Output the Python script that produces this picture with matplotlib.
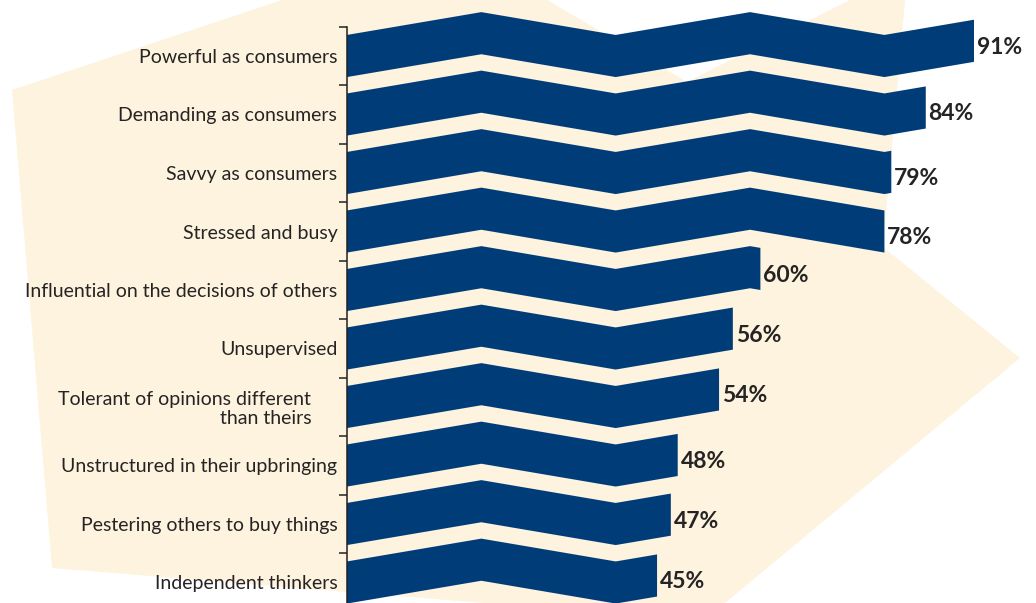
import matplotlib
matplotlib.use("Agg")
import matplotlib.pyplot as plt
from matplotlib.patches import Polygon
from matplotlib.transforms import ScaledTranslation

# survey answers, top to bottom
traits = [
    "Powerful as consumers",
    "Demanding as consumers",
    "Savvy as consumers",
    "Stressed and busy",
    "Influential on the decisions of others",
    "Unsupervised",
    "Tolerant of opinions different\nthan theirs",
    "Unstructured in their upbringing",
    "Pestering others to buy things",
    "Independent thinkers",
]
shares = [91, 84, 79, 78, 60, 56, 54, 48, 47, 45]

BLUE = "#003d78"
CREAM = "#fdf3de"
INK = "#262324"

plt.rcParams["font.family"] = ["Lato", "DejaVu Sans"]

W, H = 1036, 603
fig = plt.figure(figsize=(W / 100, H / 100), dpi=100)
fig.patch.set_facecolor("white")

# cream star-shaped backdrop (pixel outline, y measured from the top)
star = [(12, 90), (282, 0), (547, 0), (687, 82), (850, 0), (905, 0),
        (883, 247), (1020, 358), (725, 603), (484, 603), (52, 568)]
fig.add_artist(Polygon([(x / W, 1 - y / H) for x, y in star], closed=True,
                       transform=fig.transFigure, facecolor=CREAM,
                       edgecolor="none", zorder=0))

ax = fig.add_axes([347 / W, 0, 1 - 347 / W, 1])
ax.patch.set_alpha(0)
ax.set_xlim(0, 100)
ax.set_ylim(547 / 58.5, -56 / 58.5)

# zigzag ribbon: valleys every 39 units, peaks half way between
SEG = 19.5
AMP = 0.39
HALF = 0.36


def centre(x, row):
    k = int(x // SEG)
    frac = (x - k * SEG) / SEG
    lift = frac if k % 2 == 0 else 1 - frac
    return row - AMP * lift


for row, (name, val) in enumerate(zip(traits, shares)):
    xs = [i * SEG for i in range(int(val // SEG) + 1) if i * SEG < val] + [val]
    top = [(x, centre(x, row) - HALF) for x in xs]
    bot = [(x, centre(x, row) + HALF) for x in reversed(xs)]
    ax.fill(*zip(*(top + bot)), color=BLUE, lw=0, zorder=2)
    ax.text(val + 0.4, centre(val, row) + 0.11, f"{val}%", ha="left", va="center",
            fontsize=16.5, fontweight="bold", color=INK, zorder=3)

for side in ("top", "right", "bottom"):
    ax.spines[side].set_visible(False)
ax.spines["left"].set_bounds(-0.5, 547 / 58.5)
ax.spines["left"].set_linewidth(1.1)
ax.spines["left"].set_color("#222222")
ax.set_xticks([])

ax.set_yticks(range(len(traits)))
ax.set_yticklabels(traits, fontsize=14, color=INK, linespacing=1.1)
ax.tick_params(axis="y", which="major", length=0, pad=7)
ax.set_yticks([i - 0.5 for i in range(len(traits))], minor=True)
ax.tick_params(axis="y", which="minor", length=6, width=1.1, color="#222222")

# the two-line label sits further left
shift = ax.get_yticklabels()[6]
shift.set_transform(shift.get_transform() + ScaledTranslation(-0.26, 0, fig.dpi_scale_trans))

fig.savefig("out.png", dpi=100, facecolor="white")
